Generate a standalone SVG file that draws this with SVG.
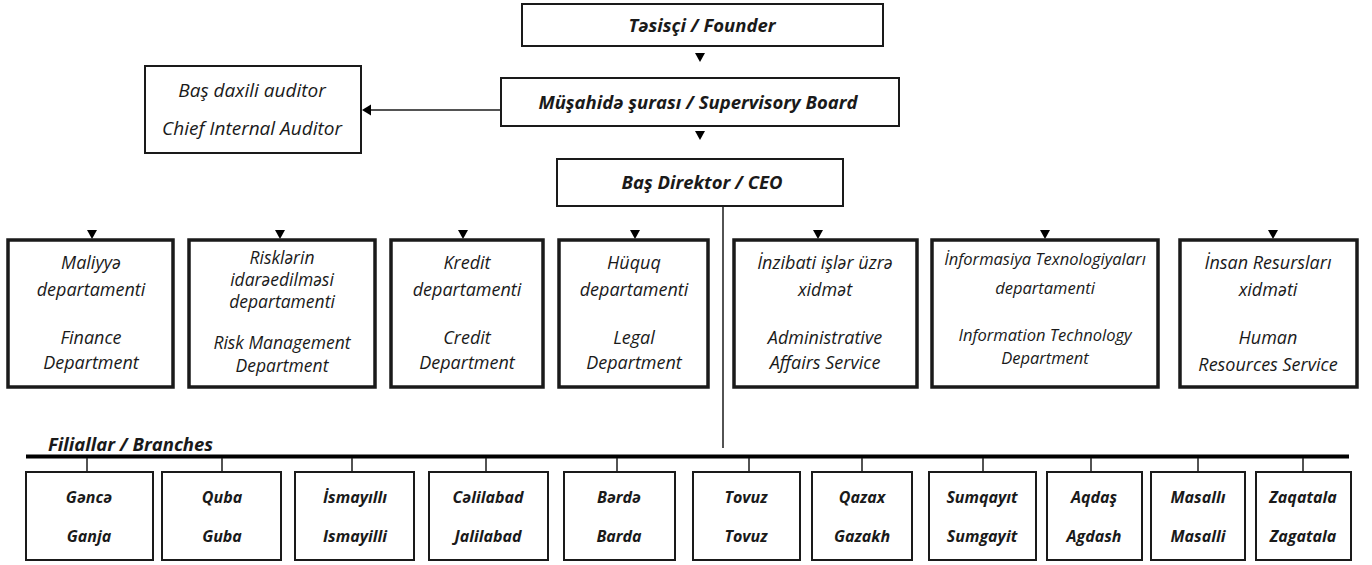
<svg xmlns="http://www.w3.org/2000/svg" width="1372" height="565" viewBox="0 0 1372 565">
<defs>
<style>
text{font-family:"Open Sans","Liberation Sans",sans-serif;font-style:italic;fill:#1a1a1a;text-anchor:middle}
.b{font-weight:bold}
.top{fill:#fff;stroke:#1a1a1a;stroke-width:2}
.dep{fill:#fff;stroke:#1a1a1a;stroke-width:3.5}
.br{fill:#fff;stroke:#1a1a1a;stroke-width:2}
.t1{font-size:18.5px}
.ta{font-size:19px}
.t2{font-size:18px}
.tr{font-size:17.5px}
.t3{font-size:16.5px}
.t4{font-size:16px}
.ln{stroke:#1a1a1a;stroke-width:1.5;fill:none}
.tri{fill:#000}
</style>
</defs>

<g id="connectors">
<line class="ln" x1="501" y1="110" x2="368" y2="110"/>
<path class="tri" d="M362,110 L371,104.5 L371,115.5 Z"/>
<path class="tri" d="M695,53 L705,53 L700,62 Z"/>
<path class="tri" d="M695,131 L705,131 L700,140 Z"/>
<path class="tri" d="M695,197 L705,197 L700,206 Z"/>
<line class="ln" x1="723" y1="206" x2="723" y2="448"/>
<path class="tri" d="M87,230 L97,230 L92,239 Z"/>
<path class="tri" d="M275,230 L285,230 L280,239 Z"/>
<path class="tri" d="M458,230 L468,230 L463,239 Z"/>
<path class="tri" d="M630,230 L640,230 L635,239 Z"/>
<path class="tri" d="M813,230 L823,230 L818,239 Z"/>
<path class="tri" d="M1040,230 L1050,230 L1045,239 Z"/>
<path class="tri" d="M1268,230 L1278,230 L1273,239 Z"/>
<line x1="26" y1="456.5" x2="1349" y2="456.5" stroke="#000" stroke-width="4"/>
<g class="ln">
<line x1="87" y1="458" x2="87" y2="472"/>
<line x1="222" y1="458" x2="222" y2="472"/>
<line x1="352" y1="458" x2="352" y2="472"/>
<line x1="486" y1="458" x2="486" y2="472"/>
<line x1="617" y1="458" x2="617" y2="472"/>
<line x1="749" y1="458" x2="749" y2="472"/>
<line x1="862" y1="458" x2="862" y2="472"/>
<line x1="983" y1="458" x2="983" y2="472"/>
<line x1="1091" y1="458" x2="1091" y2="472"/>
<line x1="1198" y1="458" x2="1198" y2="472"/>
<line x1="1303" y1="458" x2="1303" y2="472"/>
</g>
</g>

<g id="founder">
<rect class="top" x="522" y="4" width="361" height="42"/>
<text class="b t1" x="702" y="32">Təsisçi / Founder</text>
</g>
<g id="board">
<rect class="top" x="501" y="78" width="398" height="48"/>
<text class="b t1" x="698" y="109">Müşahidə şurası / Supervisory Board</text>
</g>
<g id="auditor">
<rect class="top" x="145" y="66" width="216" height="87"/>
<text class="ta" x="252" y="97">Baş daxili auditor</text>
<text class="ta" x="252" y="135">Chief Internal Auditor</text>
</g>
<g id="ceo">
<rect class="top" x="557" y="159" width="286" height="47"/>
<text class="b t1" x="702" y="189">Baş Direktor / CEO</text>
</g>

<g id="finance">
<rect class="dep" x="8" y="240" width="165" height="147"/>
<text class="t2" x="91" y="269">Maliyyə</text>
<text class="t2" x="91" y="296">departamenti</text>
<text class="t2" x="91" y="344">Finance</text>
<text class="t2" x="91" y="369">Department</text>
</g>
<g id="risk">
<rect class="dep" x="189" y="240" width="186" height="147"/>
<text class="tr" x="282" y="264">Risklərin</text>
<text class="tr" x="282" y="286">idarəedilməsi</text>
<text class="tr" x="282" y="308">departamenti</text>
<text class="tr" x="282" y="349">Risk Management</text>
<text class="tr" x="282" y="372">Department</text>
</g>
<g id="credit">
<rect class="dep" x="391" y="240" width="152" height="147"/>
<text class="t2" x="467" y="269">Kredit</text>
<text class="t2" x="467" y="296">departamenti</text>
<text class="t2" x="467" y="344">Credit</text>
<text class="t2" x="467" y="369">Department</text>
</g>
<g id="legal">
<rect class="dep" x="559" y="240" width="149" height="147"/>
<text class="t2" x="634" y="269">Hüquq</text>
<text class="t2" x="634" y="296">departamenti</text>
<text class="t2" x="634" y="344">Legal</text>
<text class="t2" x="634" y="369">Department</text>
</g>
<g id="admin">
<rect class="dep" x="734" y="240" width="183" height="147"/>
<text class="t2" x="825" y="269">İnzibati işlər üzrə</text>
<text class="t2" x="825" y="296">xidmət</text>
<text class="t2" x="825" y="344">Administrative</text>
<text class="t2" x="825" y="369">Affairs Service</text>
</g>
<g id="it">
<rect class="dep" x="932" y="240" width="226" height="147"/>
<text class="t3" x="1045" y="265">İnformasiya Texnologiyaları</text>
<text class="t3" x="1045" y="294">departamenti</text>
<text class="t3" x="1045" y="341">Information Technology</text>
<text class="t3" x="1045" y="364">Department</text>
</g>
<g id="hr">
<rect class="dep" x="1180" y="240" width="177" height="147"/>
<text class="t2" x="1268" y="269">İnsan Resursları</text>
<text class="t2" x="1268" y="296">xidməti</text>
<text class="t2" x="1268" y="344">Human</text>
<text class="t2" x="1268" y="371">Resources Service</text>
</g>

<text class="b t1" x="48" y="451" style="text-anchor:start">Filiallar / Branches</text>

<g id="ganja"><rect class="br" x="26" y="472" width="127" height="88"/><text class="b t4" x="89" y="503">Gəncə</text><text class="b t4" x="89" y="542">Ganja</text></g>
<g id="guba"><rect class="br" x="162" y="472" width="119" height="88"/><text class="b t4" x="222" y="503">Quba</text><text class="b t4" x="222" y="542">Guba</text></g>
<g id="ismayilli"><rect class="br" x="295" y="472" width="119" height="88"/><text class="b t4" x="355" y="503">İsmayıllı</text><text class="b t4" x="355" y="542">Ismayilli</text></g>
<g id="jalilabad"><rect class="br" x="429" y="472" width="119" height="88"/><text class="b t4" x="488" y="503">Cəlilabad</text><text class="b t4" x="488" y="542">Jalilabad</text></g>
<g id="barda"><rect class="br" x="564" y="472" width="111" height="88"/><text class="b t4" x="619" y="503">Bərdə</text><text class="b t4" x="619" y="542">Barda</text></g>
<g id="tovuz"><rect class="br" x="693" y="472" width="107" height="88"/><text class="b t4" x="746" y="503">Tovuz</text><text class="b t4" x="746" y="542">Tovuz</text></g>
<g id="gazakh"><rect class="br" x="812" y="472" width="100" height="88"/><text class="b t4" x="862" y="503">Qazax</text><text class="b t4" x="862" y="542">Gazakh</text></g>
<g id="sumgayit"><rect class="br" x="929" y="472" width="107" height="88"/><text class="b t4" x="982" y="503">Sumqayıt</text><text class="b t4" x="982" y="542">Sumgayit</text></g>
<g id="agdash"><rect class="br" x="1047" y="472" width="95" height="88"/><text class="b t4" x="1094" y="503">Aqdaş</text><text class="b t4" x="1094" y="542">Agdash</text></g>
<g id="masalli"><rect class="br" x="1151" y="472" width="94" height="88"/><text class="b t4" x="1198" y="503">Masallı</text><text class="b t4" x="1198" y="542">Masalli</text></g>
<g id="zagatala"><rect class="br" x="1256" y="472" width="95" height="88"/><text class="b t4" x="1303" y="503">Zaqatala</text><text class="b t4" x="1303" y="542">Zagatala</text></g>
</svg>
